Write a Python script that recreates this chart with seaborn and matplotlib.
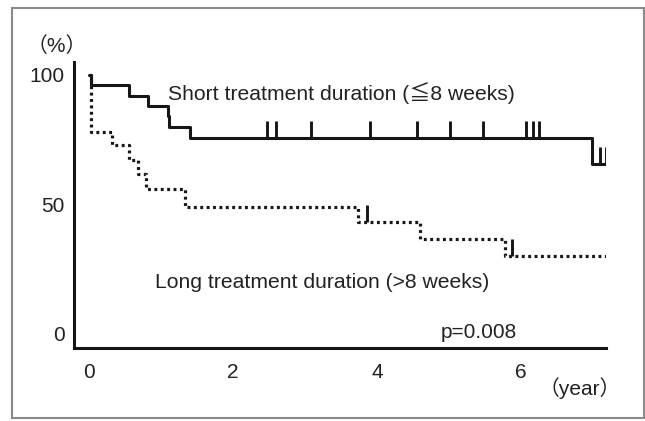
"""
Kaplan-Meier style survival curves: short vs long treatment duration.
"""

import matplotlib
matplotlib.use("Agg")
import matplotlib.pyplot as plt
import seaborn as sns
import pandas as pd
import numpy as np
from matplotlib.patches import Rectangle

# step curves (time in years, survival in %)
short_times = [0, 0.02, 0.56, 0.82, 1.09, 1.11, 1.40, 6.99, 7.18]
short_surv = [100, 96, 92, 88, 84, 80, 75.5, 65.5, 65.5]
short_censor = [2.47, 2.59, 3.08, 3.90, 4.55, 5.02, 5.47, 6.07, 6.17, 6.25, 7.10, 7.18]

long_times = [0, 0.02, 0.32, 0.55, 0.68, 0.79, 1.33, 3.73, 4.60, 5.78, 7.19]
long_surv = [100, 78, 73, 67, 61.5, 56, 49, 43, 36.5, 30, 30]
long_censor = [3.86, 5.88]

x_ticks = [0, 2, 4, 6]
y_ticks = [0, 50, 100]

short_label = "Short treatment duration (≦8 weeks)"
long_label = "Long treatment duration (>8 weeks)"
p_label = "p=0.008"


def surv_at(times, surv, t):
    idx = np.searchsorted(times, t, side="right") - 1
    return surv[idx]


sns.set_theme(style="white")
plt.rcParams["font.family"] = ["Liberation Sans", "Noto Sans CJK JP", "DejaVu Sans"]

ink = "#161616"

fig = plt.figure(figsize=(6.45, 4.21), dpi=100)
ax = fig.add_axes([0.1147, 0.1741, 0.8248, 0.6793])

short_df = pd.DataFrame({"time": short_times, "survival": short_surv})
long_df = pd.DataFrame({"time": long_times, "survival": long_surv})

sns.lineplot(data=short_df, x="time", y="survival", drawstyle="steps-post",
             color=ink, lw=2.2, estimator=None, sort=False, ax=ax)
sns.lineplot(data=long_df, x="time", y="survival", drawstyle="steps-post",
             color=ink, lw=2.3, linestyle=(0, (0.9, 1.1)), estimator=None, sort=False, ax=ax)

# censor marks: short ticks pointing up from the curve
for times, surv, cens in [(short_times, short_surv, short_censor),
                          (long_times, long_surv, long_censor)]:
    lv = np.array([surv_at(times, surv, c) for c in cens])
    ax.vlines(cens, lv, lv + 6.5, color=ink, lw=2.1)

ax.set_xlim(-0.21, 7.18)
ax.set_ylim(-5.6, 105.1)
ax.set_xticks(x_ticks)
ax.set_yticks(y_ticks)
ax.set_xlabel("")
ax.set_ylabel("")

for side in ["top", "right"]:
    ax.spines[side].set_visible(False)
for side in ["left", "bottom"]:
    ax.spines[side].set_linewidth(2.2)
    ax.spines[side].set_color(ink)

ax.tick_params(axis="both", direction="out", width=2, color=ink, labelsize=15, labelcolor="#222222")
ax.tick_params(axis="x", length=4, pad=7)
ax.tick_params(axis="y", length=4.5, pad=2)

ax.text(1.097, 90.3, short_label, fontsize=15.2, color="#222222", va="baseline", ha="left")
ax.text(0.917, 17.4, long_label, fontsize=15.2, color="#222222", va="baseline", ha="left")
ax.text(4.89, -1.7, p_label, fontsize=15, color="#222222", va="baseline", ha="left")
ax.text(-0.444, 111.2, "（%）", fontsize=15, color="#222222", va="center", ha="center", clip_on=False)
ax.text(6.82, -21.2, "（year）", fontsize=15, color="#222222", va="center", ha="center", clip_on=False)

# scanned frame around the figure
fig.patches.append(Rectangle((0.018, 0.006), 0.980, 0.976, transform=fig.transFigure,
                             fill=False, ec="#8a8a8a", lw=1.5))

fig.savefig("out.png", dpi=100)
